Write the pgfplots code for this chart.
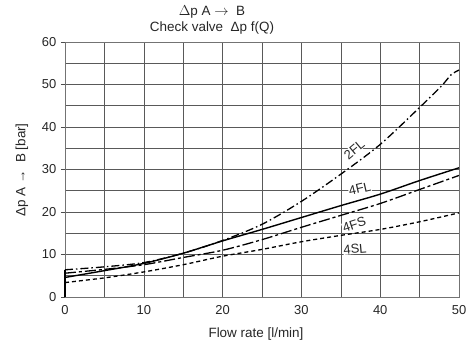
\documentclass[border=0pt]{standalone}
\usepackage{pgfplots}
\pgfplotsset{compat=1.18}
\usepackage{fontspec}
\setmainfont{Liberation Sans}
\begin{document}
\fontsize{13.5}{15}\selectfont
\begin{tikzpicture}
\useasboundingbox (-65bp,-58bp) rectangle (409bp,297bp);
\begin{axis}[
  at={(0,0)}, anchor=south west,
  scale only axis, width=394bp, height=255bp,
  xmin=0, xmax=50, ymin=0, ymax=60,
  xtick={0,10,...,50}, ytick={0,10,...,60},
  minor xtick={5,15,...,45}, minor ytick={5,15,...,55},
  grid=both,
  grid style={line width=0.6bp, draw=black!65},
  minor grid style={line width=0.6bp, draw=black!65},
  axis line style={draw=black!55, line width=0.7bp},
  ytick pos=left, xtick pos=bottom,
  tick align=outside, major tick length=4bp, minor tick length=0pt,
  tick style={draw=black!70, line width=0.6bp},
  xtick style={draw=none},
  ticklabel style={font=\fontsize{13}{15}\selectfont, text=black!85},
  /pgf/number format/assume math mode=true,
  clip=false,
]
% vertical start segment
\addplot[black, line width=1.6bp] coordinates {(0,0) (0,6.4)};
% 2FL
\addplot[black, line width=1.3bp, smooth, dash pattern=on 8bp off 3bp on 1.5bp off 3bp] coordinates {
(0,6.4) (5,7.1) (10,8.1) (15,10.3) (20,13.3) (25,17.1) (30,22.5) (35,28.9) (40,35.9) (45,44.6) (47.8,49.7) (49,52.3) (50,53.4)};
% 4FL
\addplot[black, line width=1.4bp, smooth] coordinates {
(0,4.6) (5,6.2) (10,7.9) (15,10.3) (20,13.2) (25,15.9) (30,18.7) (35,21.5) (40,24.2) (45,27.4) (50,30.4)};
% 4FS
\addplot[black, line width=1.3bp, smooth, dash pattern=on 11bp off 3bp on 3bp off 3bp] coordinates {
(0,5.6) (5,6.5) (10,7.6) (15,9.3) (20,11.0) (25,13.5) (30,16.4) (35,19.2) (40,22.0) (45,25.3) (50,28.6)};
% 4SL
\addplot[black, line width=1.3bp, smooth, dash pattern=on 4bp off 3bp] coordinates {
(0,3.4) (5,4.5) (10,5.9) (15,7.6) (20,9.6) (25,11.2) (30,13.0) (35,14.5) (40,15.9) (45,17.7) (50,19.8)};
\node[rotate=40, font=\fontsize{13}{14}\selectfont, text=black!85, fill=white, inner sep=0.3bp] at (axis cs:36.7,34.7) {2FL};
\node[rotate=13, font=\fontsize{13}{14}\selectfont, text=black!85, fill=white, inner sep=0.3bp] at (axis cs:37.4,25.5) {4FL};
\node[rotate=18, font=\fontsize{13}{14}\selectfont, text=black!85, fill=white, inner sep=0.3bp] at (axis cs:36.7,17.0) {4FS};
\node[rotate=5, font=\fontsize{13}{14}\selectfont, text=black!85, fill=white, inner sep=0.3bp] at (axis cs:36.8,11.3) {4SL};
\end{axis}
\node[text=black!85] at (147bp,285bp) {$\Delta$p A $\rightarrow$\ \ B};
\node[text=black!85] at (147bp,269bp) {Check valve\ \ Δp f(Q)};
\node[text=black!85, rotate=90] at (-43bp,127bp) {Δp A → \ B [bar]};
\node[text=black!85] at (191bp,-37bp) {Flow rate [l/min]};
\end{tikzpicture}
\end{document}
